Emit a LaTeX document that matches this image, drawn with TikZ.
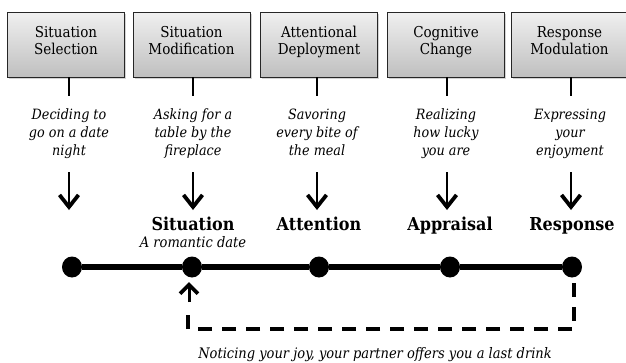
\documentclass[tikz,border=0pt]{standalone}
\usepackage{fontspec}
\setmainfont{DejaVu Serif Condensed}
\usetikzlibrary{shadows,arrows.meta,shapes.geometric}
\begin{document}
\begin{tikzpicture}[x=1pt,y=-1pt,
  box/.style={draw=black!85, line width=0.9pt, top color=gray!12, bottom color=gray!50,
    minimum width=117pt, minimum height=65pt, inner sep=0pt,
    drop shadow={shadow xshift=1.5pt, shadow yshift=-1.5pt, opacity=0.35}},
  boxtext/.style={anchor=base, font=\fontsize{15}{18}\selectfont, inner sep=0pt},
  desc/.style={anchor=base, font=\fontsize{14.2}{18}\selectfont\itshape, inner sep=0pt},
  stage/.style={anchor=base, font=\fontsize{17.8}{20}\selectfont\bfseries, inner sep=0pt},
  stem/.style={line width=2pt},
  down/.style={line width=2.2pt, -{Straight Barb[length=12pt,width=19pt,line width=3.8pt]}},
  up/.style={line width=3pt, -{Straight Barb[length=9pt,width=18pt,line width=3.8pt]}},
  dot/.style={ellipse, fill=black, minimum width=20pt, minimum height=21pt, inner sep=0pt},
  feedback/.style={line width=3.5pt, dash pattern=on 14pt off 10pt},
]
\useasboundingbox (0,0) rectangle (626,362);

% boxes
\node[box] (b1) at (66,44.5) {};
\node[box] (b2) at (191.5,44.5) {};
\node[box] (b3) at (319,44.5) {};
\node[box] (b4) at (446,44.5) {};
\node[box] (b5) at (569.5,44.5) {};
\node[boxtext] (b1t1) at (66,37) {Situation};
\node[boxtext] (b1t2) at (66,54.5) {Selection};
\node[boxtext] (b2t1) at (191.5,37) {Situation};
\node[boxtext] (b2t2) at (191.5,54.5) {Modification};
\node[boxtext] (b3t1) at (319,37) {Attentional};
\node[boxtext] (b3t2) at (319,54.5) {Deployment};
\node[boxtext] (b4t1) at (446,37) {Cognitive};
\node[boxtext] (b4t2) at (446,54.5) {Change};
\node[boxtext] (b5t1) at (569.5,37) {Response};
\node[boxtext] (b5t2) at (569.5,54.5) {Modulation};

% stems
\foreach \n/\x in {b1/69, b2/193, b3/317, b4/447, b5/571}{
  \coordinate (\n s) at (\x,96);
  \draw[stem] (\n.south -| \n s) -- (\n s);
}

% descriptions
\node[desc] (d11) at (69,119) {Deciding to};
\node[desc] (d12) at (69,137) {go on a date};
\node[desc] (d13) at (69,155) {night};
\node[desc] (d21) at (193,119) {Asking for a};
\node[desc] (d22) at (193,137) {table by the};
\node[desc] (d23) at (193,155) {fireplace};
\node[desc] (d31) at (317,119) {Savoring};
\node[desc] (d32) at (317,137) {every bite of};
\node[desc] (d33) at (317,155) {the meal};
\node[desc] (d41) at (446,119) {Realizing};
\node[desc] (d42) at (446,137) {how lucky};
\node[desc] (d43) at (446,155) {you are};
\node[desc] (d51) at (570,119) {Expressing};
\node[desc] (d52) at (570,137) {your};
\node[desc] (d53) at (570,155) {enjoyment};

% arrows
\foreach \x/\n in {69/a1, 193/a2, 317/a3, 447/a4, 571/a5}{
  \coordinate (\n t) at (\x,172);
  \coordinate (\n h) at (\x,210);
  \draw[down] (\n t) -- (\n h);
}

% stage labels
\node[stage] (s2) at (193,230) {Situation};
\node[anchor=base, font=\fontsize{14.5}{16}\selectfont\itshape, inner sep=0pt] (s2b) at (193,247) {A romantic date};
\node[stage] (s3) at (319,230) {Attention};
\node[stage] (s4) at (450,230) {Appraisal};
\node[stage] (s5) at (572,230) {Response};

% timeline
\node[dot] (p1) at (72,267) {};
\node[dot] (p2) at (192,267) {};
\node[dot] (p3) at (319,267) {};
\node[dot] (p4) at (450,267) {};
\node[dot] (p5) at (572,267) {};
\draw[line width=5.5pt] (p1) -- (p2) -- (p3) -- (p4) -- (p5);

% feedback
\coordinate (f1) at (574,283);
\coordinate (f2) at (574,329);
\coordinate (f3) at (188,329);
\coordinate (f4) at (188,313);
\draw[feedback] (f1) -- (f2) -- (f3) -- (f4);
\coordinate (ft) at (189,302);
\coordinate (fh) at (189,282);
\draw[up] (ft) -- (fh);

\node[anchor=base, font=\fontsize{14.5}{16}\selectfont\itshape, inner sep=0pt] (note) at (375,358) {Noticing your joy, your partner offers you a last drink};
\end{tikzpicture}
\end{document}
